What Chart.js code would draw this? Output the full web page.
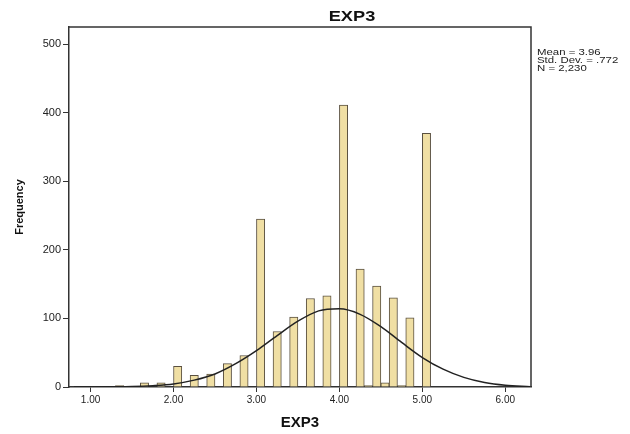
<!DOCTYPE html>
<html>
<head>
<meta charset="utf-8">
<script src="https://cdn.jsdelivr.net/npm/chart.js@4"></script>
<style>
  html, body { margin: 0; padding: 0; background: #fff; }
  #wrap { width: 630px; height: 434px; }
</style>
</head>
<body>
<div id="wrap"><canvas id="myChart" width="630" height="434"></canvas></div>
<script>
'use strict';
// histogram bins (bin centre, width .1) and counts
const binCenters = [1.35, 1.65, 1.85, 2.05, 2.25, 2.45, 2.65, 2.85, 3.05, 3.25, 3.45, 3.65, 3.85, 4.05, 4.25, 4.35, 4.45, 4.55, 4.65, 4.75, 4.85, 5.05];
const counts = [2, 6, 6, 30, 17, 19, 34, 46, 245, 81, 102, 129, 133, 411, 172, 2, 147, 6, 130, 2, 101, 370];

// normal curve
const curveX = [0.8, 1.0, 1.25, 1.5, 1.75, 2.0, 2.25, 2.5, 2.75, 3.0, 3.25, 3.5, 3.75, 4.0, 4.25, 4.5, 4.75, 5.0, 5.25, 5.5, 5.75, 6.0, 6.3];
const curveY = [0, 0.1, 0.3, 0.7, 2, 4.5, 10, 19, 34, 53, 75, 96, 111, 114, 106, 88, 65, 43, 26, 14, 6.5, 2.5, 0.5];

const xTicks = [1, 2, 3, 4, 5, 6];
const yTicks = [0, 100, 200, 300, 400, 500];
const chartTitle = 'EXP3';
const statsLines = ['Mean = 3.96', 'Std. Dev. = .772', 'N = 2,230'];

let barData = [];
for (let i = 0; i < binCenters.length; i++) {
  barData.push({ x: binCenters[i], y: counts[i] });
}
let curveData = [];
for (let i = 0; i < curveX.length; i++) {
  curveData.push({ x: curveX[i], y: curveY[i] });
}

// draw text a bit wider, the scan is stretched sideways
function wideText(ctx, text, x, y, sx) {
  ctx.save();
  ctx.translate(x, y);
  ctx.scale(sx, 1);
  ctx.fillText(text, 0, 0);
  ctx.restore();
}

// box round the plot, title and stats text on the right
const framePlugin = {
  id: 'frame',
  afterDraw(chart) {
    const ctx = chart.ctx;
    const a = chart.chartArea;
    ctx.save();
    ctx.strokeStyle = '#333';
    ctx.lineWidth = 1.5;
    ctx.beginPath();
    ctx.moveTo(a.left, a.top);
    ctx.lineTo(a.right, a.top);
    ctx.lineTo(a.right, a.bottom);
    ctx.stroke();

    ctx.fillStyle = '#111';
    ctx.font = 'bold 14px "Liberation Sans", Arial, sans-serif';
    ctx.textAlign = 'center';
    ctx.textBaseline = 'middle';
    wideText(ctx, chartTitle, 352, 17, 1.3);

    ctx.fillStyle = '#222';
    ctx.font = '9.5px "Liberation Sans", Arial, sans-serif';
    ctx.textAlign = 'left';
    for (let i = 0; i < statsLines.length; i++) {
      wideText(ctx, statsLines[i], a.right + 6, 52 + i * 8, 1.2);
    }
    ctx.restore();
  }
};

Chart.defaults.font.family = '"Liberation Sans", Arial, sans-serif';
Chart.defaults.color = '#222';

const ctx = document.getElementById('myChart').getContext('2d');
let config = {
  type: 'bar',
  data: {
    datasets: [{
      type: 'line',
      label: 'Normal',
      data: curveData,
      borderColor: '#222',
      borderWidth: 1.5,
      pointRadius: 0,
      cubicInterpolationMode: 'monotone',
      fill: false,
      order: 0
    },
    {
      label: 'EXP3',
      data: barData,
      backgroundColor: 'rgb(240, 223, 164)',
      borderColor: '#5a5040',
      borderWidth: 1,
      barPercentage: 1,
      categoryPercentage: 1,
      order: 1
    }]
  },
  options: {
    responsive: false,
    animation: false,
    layout: { padding: { left: 8, right: 99, top: 27, bottom: 0 } },
    plugins: {
      legend: { display: false },
      tooltip: { enabled: false },
      title: { display: false }
    },
    scales: {
      x: {
        type: 'linear',
        offset: false,
        min: 0.74,
        max: 6.31,
        afterBuildTicks(scale) {
          scale.ticks = xTicks.map(v => ({ value: v }));
        },
        afterFit(scale) { scale.height = 434 - 387; },
        ticks: {
          callback: v => v.toFixed(2),
          font: { size: 10 },
          padding: 2,
          maxRotation: 0
        },
        grid: { offset: false, drawOnChartArea: false, drawTicks: true, tickLength: 5, color: '#333' },
        border: { display: true, color: '#333', width: 1.5 },
        title: {
          display: true,
          text: 'EXP3',
          font: { size: 15, weight: 'bold' },
          color: '#111',
          padding: { top: 0, bottom: 2 }
        }
      },
      y: {
        min: 0,
        max: 525,
        afterBuildTicks(scale) {
          scale.ticks = yTicks.map(v => ({ value: v }));
        },
        afterFit(scale) { scale.width = 69 - 8; },
        ticks: { font: { size: 11 }, padding: 2 },
        grid: { drawOnChartArea: false, drawTicks: true, tickLength: 6, color: '#333' },
        border: { display: true, color: '#333', width: 1.5 },
        title: {
          display: true,
          text: 'Frequency',
          font: { size: 11, weight: 'bold' },
          color: '#111',
          padding: { top: 5, bottom: 0 }
        }
      }
    }
  },
  plugins: [framePlugin]
};
const myChart = new Chart(ctx, config);
</script>
</body>
</html>
